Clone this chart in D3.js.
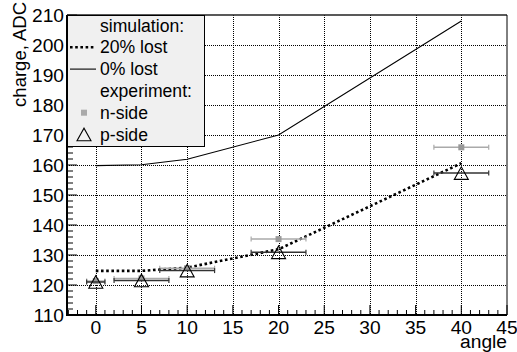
<!DOCTYPE html>
<html><head><meta charset="utf-8">
<script src="https://cdn.jsdelivr.net/npm/d3@7"></script>
<style>
body{margin:0;background:#fff;}
text{font-family:"Liberation Sans",Arial,sans-serif;fill:#000;}
</style></head>
<body><svg id="c" width="517" height="352"></svg>
<script>
const angles = [0, 5, 10, 20, 40];
const sim20 = [124.7, 124.7, 125.8, 131.9, 160.6];
const sim0 = [159.8, 160.1, 161.9, 170.0, 208.0];
const nSide = [121.3, 122.2, 125.6, 135.3, 165.9];
const pSide = [121.0, 121.5, 124.8, 130.9, 157.3];
const angleErr = [1, 3, 3, 3, 3];
const xTicks = [0, 5, 10, 15, 20, 25, 30, 35, 40, 45];
const yTicks = [110, 120, 130, 140, 150, 160, 170, 180, 190, 200, 210];
const legendLabels = ["simulation:", "20% lost", "0% lost", "experiment:", "n-side", "p-side"];

const svg = d3.select("#c");
const L = 67, R = 507, T = 15, B = 315;
const x = d3.scaleLinear().domain([-3.15, 45]).range([L, R]);
const y = d3.scaleLinear().domain([110, 210]).range([B, T]);
const FS = 17.6, TFS = 19.2;

// grid
const grid = svg.append("g").attr("stroke", "#000").attr("stroke-width", 1).attr("stroke-dasharray", "1,1").attr("shape-rendering", "crispEdges");
xTicks.filter(t => t > -3 && t < 45).forEach(t => {
  grid.append("line").attr("x1", Math.round(x(t)) + 0.5).attr("x2", Math.round(x(t)) + 0.5).attr("y1", T).attr("y2", B);
});
yTicks.filter(t => t > 110 && t < 210).forEach(t => {
  grid.append("line").attr("y1", Math.round(y(t)) + 0.5).attr("y2", Math.round(y(t)) + 0.5).attr("x1", L).attr("x2", R);
});

// x axis
const xMinor = d3.range(-3, 46, 1);
const xAxis = d3.axisBottom(x).tickValues(xMinor).tickSize(0).tickFormat("");
svg.append("g").attr("transform", `translate(0,${B})`).call(xAxis).select(".domain").remove();
const ax = svg.append("g").attr("stroke", "#000").attr("stroke-width", 1);
xMinor.forEach(t => {
  const major = t % 5 === 0;
  ax.append("line").attr("x1", x(t)).attr("x2", x(t)).attr("y1", B).attr("y2", B - (major ? 10 : 5));
});
svg.append("g").selectAll("text").data(xTicks).join("text")
  .attr("x", d => x(d)).attr("y", 333.5).attr("text-anchor", "middle")
  .attr("font-size", TFS).text(d => d);

// y axis
const yMinor = d3.range(110, 211, 2);
yMinor.forEach(t => {
  const major = t % 10 === 0;
  ax.append("line").attr("y1", y(t)).attr("y2", y(t)).attr("x1", L).attr("x2", L + (major ? 10 : 6));
});
svg.append("g").selectAll("text").data(yTicks).join("text")
  .attr("x", 64).attr("y", d => y(d) + 7).attr("text-anchor", "end")
  .attr("font-size", TFS).text(d => d);

// frame
svg.append("line").attr("x1", L).attr("x2", R).attr("y1", T).attr("y2", T).attr("stroke", "#222").attr("stroke-width", 1.5);
svg.append("line").attr("x1", R).attr("x2", R).attr("y1", T).attr("y2", B).attr("stroke", "#000").attr("stroke-width", 1);
svg.append("line").attr("x1", L).attr("x2", L).attr("y1", T).attr("y2", B + 1).attr("stroke", "#000").attr("stroke-width", 2);
svg.append("line").attr("x1", L - 1).attr("x2", R).attr("y1", B).attr("y2", B).attr("stroke", "#000").attr("stroke-width", 2);

// titles
svg.append("text").attr("x", R).attr("y", 348).attr("text-anchor", "end").attr("font-size", TFS).text("angle");
svg.append("text").attr("transform", "translate(25.5,2) rotate(-90)").attr("text-anchor", "end").attr("font-size", 18.5).text("charge, ADC");

// simulation lines
const line = d3.line().x((d, i) => x(angles[i])).y(d => y(d));
svg.append("path").attr("d", line(sim0)).attr("fill", "none").attr("stroke", "#000").attr("stroke-width", 1.1);
svg.append("path").attr("d", line(sim20)).attr("fill", "none").attr("stroke", "#000").attr("stroke-width", 2.6).attr("stroke-dasharray", "2.6,2.6");

// experiment: n-side
const gN = svg.append("g");
angles.forEach((a, i) => {
  const yy = y(nSide[i]);
  gN.append("line").attr("x1", x(a - angleErr[i])).attr("x2", x(a + angleErr[i])).attr("y1", yy).attr("y2", yy).attr("stroke", "#aaa").attr("stroke-width", 1.5);
  [a - angleErr[i], a + angleErr[i]].forEach(e => gN.append("line").attr("x1", x(e)).attr("x2", x(e)).attr("y1", yy - 2.5).attr("y2", yy + 2.5).attr("stroke", "#aaa").attr("stroke-width", 1.2));
  gN.append("rect").attr("x", x(a) - 3).attr("y", yy - 3).attr("width", 6).attr("height", 6).attr("fill", "#999");
});
// experiment: p-side
const gP = svg.append("g");
const tri = (cx, cy) => `M${cx - 7},${cy + 6.3}L${cx + 7},${cy + 6.3}L${cx},${cy - 6.3}Z`;
angles.forEach((a, i) => {
  const yy = y(pSide[i]);
  gP.append("line").attr("x1", x(a - angleErr[i])).attr("x2", x(a + angleErr[i])).attr("y1", yy).attr("y2", yy).attr("stroke", "#333").attr("stroke-width", 1.5);
  [a - angleErr[i], a + angleErr[i]].forEach(e => gP.append("line").attr("x1", x(e)).attr("x2", x(e)).attr("y1", yy - 2.5).attr("y2", yy + 2.5).attr("stroke", "#333").attr("stroke-width", 1.2));
  gP.append("path").attr("d", tri(x(a), yy)).attr("fill", "none").attr("stroke", "#000").attr("stroke-width", 1.1);
});

// legend
const lg = svg.append("g");
lg.append("rect").attr("x", L + 0.5).attr("y", T + 0.5).attr("width", 137).attr("height", 131).attr("fill", "#f0f0f0").attr("stroke", "#000").attr("stroke-width", 1);
const base0 = 31.5, step = 21.8;
lg.selectAll("text").data(legendLabels).join("text")
  .attr("x", 100).attr("y", (d, i) => base0 + step * i).attr("font-size", FS).text(d => d);
const rowY = i => base0 + step * i - 6;
lg.append("line").attr("x1", 70).attr("x2", 96).attr("y1", rowY(1)).attr("y2", rowY(1)).attr("stroke", "#000").attr("stroke-width", 2.6).attr("stroke-dasharray", "2.6,2.6");
lg.append("line").attr("x1", 70).attr("x2", 96).attr("y1", rowY(2)).attr("y2", rowY(2)).attr("stroke", "#000").attr("stroke-width", 1.1);
lg.append("rect").attr("x", 84 - 3).attr("y", rowY(4) - 3).attr("width", 6).attr("height", 6).attr("fill", "#aaa");
lg.append("path").attr("d", tri(84, rowY(5))).attr("fill", "none").attr("stroke", "#000").attr("stroke-width", 1.1);
</script></body></html>
